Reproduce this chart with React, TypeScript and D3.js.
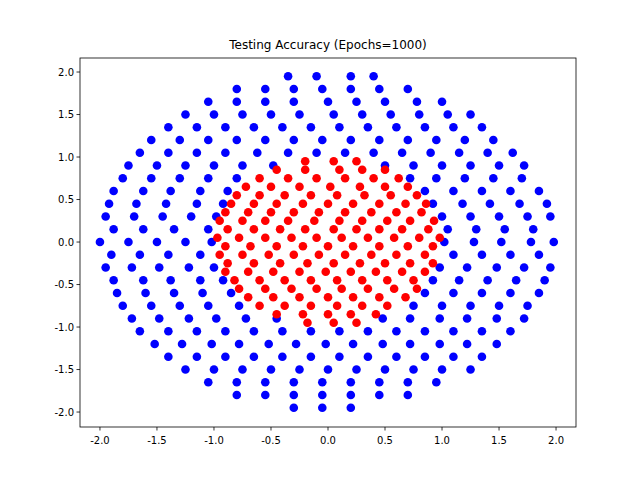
import * as d3 from 'd3';

// Rows of points: each row is a y value and the x values on it.
const redRows: [number, number[]][] = [
  [0.95, [-0.2, 0.05, 0.25]],
  [0.85, [-0.45, -0.2, 0.1, 0.3, 0.5]],
  [0.75, [-0.6, -0.35, -0.1, 0.15, 0.4, 0.62]],
  [0.65, [-0.72, -0.5, -0.25, 0.02, 0.28, 0.5, 0.7]],
  [0.55, [-0.8, -0.6, -0.38, -0.15, 0.08, 0.32, 0.55, 0.78]],
  [0.45, [-0.85, -0.65, -0.45, -0.22, 0, 0.22, 0.45, 0.68, 0.86]],
  [0.35, [-0.9, -0.7, -0.5, -0.3, -0.08, 0.15, 0.38, 0.6, 0.82]],
  [0.25, [-0.95, -0.75, -0.55, -0.35, -0.12, 0.1, 0.3, 0.52, 0.72, 0.93]],
  [0.15, [-0.88, -0.65, -0.42, -0.2, 0.05, 0.25, 0.45, 0.65, 0.88]],
  [0.05, [-0.97, -0.78, -0.55, -0.32, -0.1, 0.12, 0.35, 0.58, 0.8, 0.98]],
  [-0.05, [-0.9, -0.68, -0.45, -0.22, 0, 0.22, 0.45, 0.7, 0.92]],
  [-0.15, [-0.95, -0.75, -0.52, -0.3, -0.08, 0.15, 0.38, 0.6, 0.85]],
  [-0.25, [-0.88, -0.65, -0.42, -0.18, 0.05, 0.28, 0.5, 0.72, 0.92]],
  [-0.35, [-0.9, -0.7, -0.48, -0.25, -0.02, 0.2, 0.42, 0.65, 0.85]],
  [-0.45, [-0.82, -0.6, -0.38, -0.15, 0.08, 0.3, 0.52, 0.75]],
  [-0.55, [-0.78, -0.55, -0.32, -0.1, 0.12, 0.35, 0.58, 0.78]],
  [-0.65, [-0.7, -0.48, -0.25, 0, 0.22, 0.45, 0.68]],
  [-0.75, [-0.6, -0.38, -0.15, 0.08, 0.3, 0.52]],
  [-0.85, [-0.45, -0.22, 0, 0.2, 0.42]],
  [-0.95, [-0.18, 0.05, 0.25]],
];

const blueRows: [number, number[]][] = [
  [1.95, [-0.35, -0.1, 0.2, 0.4]],
  [1.8, [-0.8, -0.55, -0.3, -0.05, 0.2, 0.45, 0.7]],
  [1.65, [-1.05, -0.8, -0.55, -0.3, 0, 0.25, 0.5, 0.78, 1.0]],
  [1.5, [-1.25, -1.0, -0.75, -0.5, -0.25, 0.05, 0.3, 0.55, 0.8, 1.05, 1.25]],
  [1.35, [-1.4, -1.15, -0.9, -0.65, -0.4, -0.15, 0.1, 0.35, 0.6, 0.85, 1.1, 1.35]],
  [1.2, [-1.55, -1.3, -1.05, -0.8, -0.55, -0.3, -0.05, 0.2, 0.45, 0.7, 0.95, 1.2, 1.45]],
  [1.05, [-1.65, -1.4, -1.15, -0.9, -0.62, -0.35, -0.1, 0.15, 0.4, 0.65, 0.9, 1.15, 1.4, 1.62]],
  [0.9, [-1.75, -1.5, -1.25, -1.0, -0.75, -0.48, 0.5, 0.75, 1.0, 1.25, 1.5, 1.72]],
  [0.75, [-1.8, -1.55, -1.3, -1.05, -0.8, 0.72, 0.95, 1.2, 1.45, 1.7]],
  [0.6, [-1.88, -1.62, -1.38, -1.12, -0.88, 0.85, 1.1, 1.35, 1.6, 1.85]],
  [0.45, [-1.92, -1.68, -1.42, -1.15, -0.92, 0.92, 1.18, 1.42, 1.68, 1.92]],
  [0.3, [-1.95, -1.7, -1.45, -1.2, -0.98, 1.0, 1.25, 1.5, 1.75, 1.95]],
  [0.15, [-1.88, -1.62, -1.35, -1.05, 1.05, 1.3, 1.55, 1.8]],
  [0, [-2.0, -1.75, -1.5, -1.25, -1.02, 1.02, 1.28, 1.52, 1.78, 1.98]],
  [-0.15, [-1.9, -1.65, -1.4, -1.12, 1.1, 1.35, 1.6, 1.85]],
  [-0.3, [-1.95, -1.72, -1.48, -1.22, -1.0, 0.98, 1.22, 1.48, 1.72, 1.95]],
  [-0.45, [-1.88, -1.62, -1.38, -1.12, -0.92, 0.92, 1.15, 1.4, 1.65, 1.9]],
  [-0.6, [-1.85, -1.6, -1.35, -1.1, -0.85, 0.85, 1.1, 1.35, 1.6, 1.85]],
  [-0.75, [-1.8, -1.55, -1.3, -1.05, -0.78, 0.75, 1.0, 1.25, 1.5, 1.75]],
  [-0.9, [-1.72, -1.48, -1.22, -0.98, -0.72, -0.45, 0.48, 0.72, 0.98, 1.22, 1.48, 1.72]],
  [-1.05, [-1.65, -1.4, -1.15, -0.9, -0.65, -0.4, -0.15, 0.1, 0.35, 0.6, 0.85, 1.1, 1.35, 1.6]],
  [-1.2, [-1.52, -1.28, -1.02, -0.78, -0.52, -0.28, -0.02, 0.22, 0.48, 0.72, 0.98, 1.22, 1.48]],
  [-1.35, [-1.4, -1.15, -0.9, -0.65, -0.4, -0.15, 0.1, 0.35, 0.6, 0.85, 1.1, 1.35]],
  [-1.5, [-1.25, -1.0, -0.75, -0.5, -0.25, 0, 0.25, 0.5, 0.75, 1.0, 1.25]],
  [-1.65, [-1.05, -0.8, -0.55, -0.3, -0.05, 0.2, 0.45, 0.7, 0.95]],
  [-1.8, [-0.8, -0.55, -0.3, -0.05, 0.2, 0.45, 0.7]],
  [-1.95, [-0.3, -0.05, 0.2]],
];

const xTicks = [-2.0, -1.5, -1.0, -0.5, 0.0, 0.5, 1.0, 1.5, 2.0];
const yTicks = [-2.0, -1.5, -1.0, -0.5, 0.0, 0.5, 1.0, 1.5, 2.0];
const title = 'Testing Accuracy (Epochs=1000)';

const W = 640, H = 480;
const left = 80, right = 576, top = 58, bottom = 427;

const flatten = (rows: [number, number[]][]) =>
  rows.flatMap(([y, xs]) => xs.map(x => ({ x, y })));

export default function App() {
  const x = d3.scaleLinear().domain([-2.175, 2.175]).range([left, right]);
  const y = d3.scaleLinear().domain([-2.176, 2.165]).range([bottom, top]);
  const blue = flatten(blueRows);
  const red = flatten(redRows);
  const font = 'DejaVu Sans, sans-serif';

  return (
    <svg width={W} height={H} style={{ position: 'absolute', left: 0, top: 0, background: '#fff' }} fontFamily={font}>
      <rect width={W} height={H} fill="#fff" />
      <text x={(left + right) / 2} y={top - 9} textAnchor="middle" fontSize={12}>{title}</text>
      {blue.map((d, i) => (
        <circle key={'b' + i} cx={x(d.x)} cy={y(d.y)} r={4.3} fill="#0000ff" />
      ))}
      {red.map((d, i) => (
        <circle key={'r' + i} cx={x(d.x)} cy={y(d.y)} r={4.3} fill="#ff0000" />
      ))}
      <rect x={left} y={top} width={right - left} height={bottom - top} fill="none" stroke="#000" strokeWidth={0.8} />
      {xTicks.map(t => (
        <g key={'x' + t} transform={`translate(${x(t)},${bottom})`}>
          <line y2={3.5} stroke="#000" strokeWidth={0.8} />
          <text y={17} textAnchor="middle" fontSize={10}>{t.toFixed(1)}</text>
        </g>
      ))}
      {yTicks.map(t => (
        <g key={'y' + t} transform={`translate(${left},${y(t)})`}>
          <line x2={-3.5} stroke="#000" strokeWidth={0.8} />
          <text x={-6} dy="0.35em" textAnchor="end" fontSize={10}>{t.toFixed(1)}</text>
        </g>
      ))}
    </svg>
  );
}
